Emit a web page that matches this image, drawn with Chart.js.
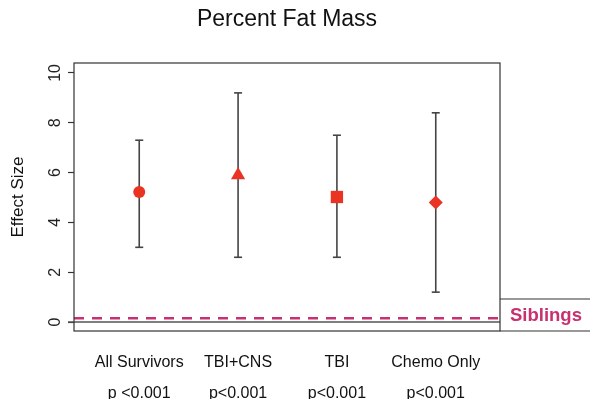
<!DOCTYPE html>
<html>
<head>
<meta charset="utf-8">
<script src="https://cdn.jsdelivr.net/npm/chart.js@4/dist/chart.umd.min.js"></script>
<style>
  html, body { margin: 0; padding: 0; background: #fff; }
  #wrap { width: 590px; height: 399px; }
</style>
</head>
<body>
<div id="wrap"><canvas id="fatChart" width="590" height="399"></canvas></div>
<script>
// data
const groups = ['All Survivors', 'TBI+CNS', 'TBI', 'Chemo Only'];
const pLabels = ['p <0.001', 'p<0.001', 'p<0.001', 'p<0.001'];
const effect = [5.22, 5.9, 5.02, 4.8];
const lower = [3.0, 2.6, 2.6, 1.2];
const upper = [7.3, 9.2, 7.5, 8.4];
const markers = ['circle', 'triangle', 'rect', 'rectRot'];
const markerSize = [6, 8.2, 8.7, 7];
const siblingsLevel = 0.15;
const yTicks = [0, 2, 4, 6, 8, 10];

const xMin = -0.66, xMax = 3.65;
const red = '#ea3323';
const magenta = '#c8306f';
const barGrey = '#444';
const fontFam = '"Liberation Sans", Arial, Helvetica, sans-serif';

const ctx = document.getElementById('fatChart').getContext('2d');

// box, zero line, rotated y tick labels and Siblings tag
const framePlugin = {
    id: 'frame',
    afterDatasetsDraw(chart) {
        const { ctx, chartArea: a, scales } = chart;
        const y0 = scales.y.getPixelForValue(0);
        ctx.save();
        ctx.strokeStyle = '#555';
        ctx.lineWidth = 1.5;
        ctx.beginPath();
        ctx.moveTo(a.left - 6, y0);
        ctx.lineTo(a.right, y0);
        ctx.stroke();

        ctx.strokeStyle = '#333';
        ctx.lineWidth = 1.2;
        ctx.strokeRect(a.left, a.top, a.right - a.left, a.bottom - a.top);

        // Siblings tag
        const tagTop = a.bottom - 32;
        ctx.beginPath();
        ctx.moveTo(a.right, tagTop);
        ctx.lineTo(chart.width + 2, tagTop);
        ctx.moveTo(a.right, a.bottom);
        ctx.lineTo(chart.width + 2, a.bottom);
        ctx.stroke();
        ctx.fillStyle = magenta;
        ctx.font = 'bold 18.5px ' + fontFam;
        ctx.textAlign = 'left';
        ctx.textBaseline = 'middle';
        ctx.fillText('Siblings', a.right + 10, tagTop + 17);

        // y tick labels, rotated like R's default
        ctx.fillStyle = '#222';
        ctx.font = '16px ' + fontFam;
        ctx.textAlign = 'center';
        ctx.textBaseline = 'alphabetic';
        yTicks.forEach(v => {
            const py = scales.y.getPixelForValue(v);
            ctx.save();
            ctx.translate(a.left - 14, py);
            ctx.rotate(-Math.PI / 2);
            ctx.fillText(String(v), 0, 0);
            ctx.restore();
        });
        ctx.restore();
    }
};

const errorBars = groups.map((g, i) => ({
    type: 'line',
    data: [{ x: i, y: lower[i] }, { x: i, y: upper[i] }],
    borderColor: barGrey,
    borderWidth: 1.6,
    pointRadius: 0,
    fill: false
}));

const caps = {
    type: 'scatter',
    data: groups.flatMap((g, i) => [{ x: i, y: lower[i] }, { x: i, y: upper[i] }]),
    pointStyle: 'line',
    pointRadius: 4,
    borderColor: barGrey,
    borderWidth: 1.6
};

const fatChart = new Chart(ctx, {
    type: 'scatter',
    data: {
        datasets: [
            {
                label: 'Effect',
                data: effect.map((v, i) => ({ x: i, y: v })),
                pointStyle: markers,
                pointRadius: markerSize,
                backgroundColor: red,
                borderColor: red,
                borderWidth: 0
            },
            caps,
            ...errorBars,
            {
                type: 'line',
                label: 'Siblings',
                data: [{ x: xMin, y: siblingsLevel }, { x: xMax, y: siblingsLevel }],
                borderColor: magenta,
                borderWidth: 2.6,
                borderDash: [10, 8],
                pointRadius: 0,
                fill: false
            }
        ]
    },
    options: {
        responsive: false,
        animation: false,
        layout: { padding: { left: 0, right: 90, top: 0, bottom: 0 } },
        plugins: {
            legend: { display: false },
            tooltip: { enabled: false },
            title: {
                display: true,
                text: 'Percent Fat Mass',
                fullSize: false,
                color: '#111',
                font: { family: fontFam, size: 23, weight: 'normal', lineHeight: 1.2 },
                padding: { top: 6, bottom: 29.4 }
            }
        },
        scales: {
            x: {
                type: 'linear',
                min: xMin,
                max: xMax,
                afterBuildTicks: scale => {
                    scale.ticks = groups.map((g, i) => ({ value: i }));
                },
                afterFit: scale => { scale.height = 68; },
                grid: { display: false },
                border: { display: false },
                ticks: {
                    color: '#111',
                    padding: 8,
                    autoSkip: false,
                    maxRotation: 0,
                    font: { family: fontFam, size: 16, lineHeight: 1.95 },
                    callback: v => [groups[v], pLabels[v]]
                }
            },
            y: {
                min: -0.36,
                max: 10.4,
                afterBuildTicks: scale => {
                    scale.ticks = yTicks.map(v => ({ value: v }));
                },
                afterFit: scale => { scale.width = 74; },
                grid: {
                    drawOnChartArea: false,
                    tickLength: 6,
                    color: '#333',
                    tickWidth: 1.2
                },
                border: { display: false },
                ticks: { display: false },
                title: {
                    display: true,
                    text: 'Effect Size',
                    color: '#111',
                    font: { family: fontFam, size: 17 },
                    padding: { top: 8, bottom: 0 }
                }
            }
        }
    },
    plugins: [framePlugin]
});
</script>
</body>
</html>
